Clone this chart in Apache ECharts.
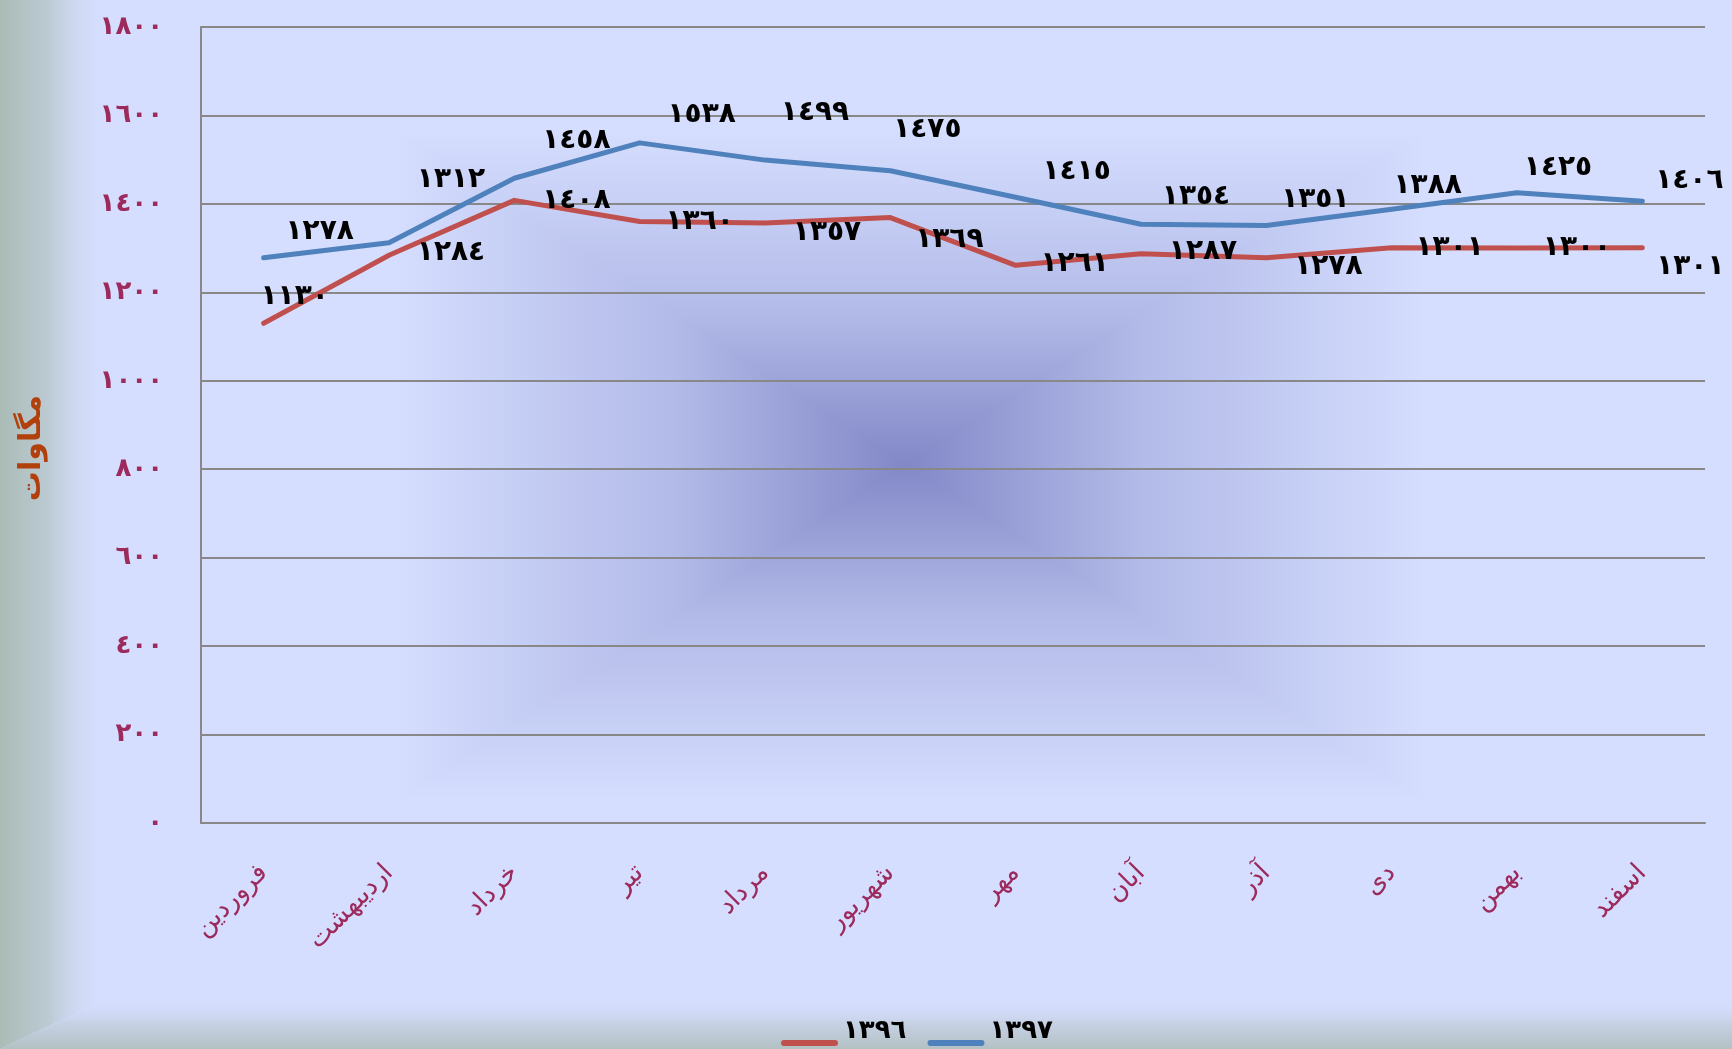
<!DOCTYPE html>
<html>
<head>
<meta charset="utf-8">
<script src="https://cdn.jsdelivr.net/npm/echarts@6/dist/echarts.min.js"></script>
<style>
html,body{margin:0;padding:0;background:#d5defe;}
#chart{width:1732px;height:1049px;}
</style>
</head>
<body>
<div id="chart"></div>
<script>
// ---- data ----
const months = ['فروردین','اردیبهشت','خرداد','تیر','مرداد','شهریور','مهر','آبان','آذر','دی','بهمن','اسفند'];
const seriesNames = ['1396','1397'];
const values1396 = [1130,1284,1408,1360,1357,1369,1261,1287,1278,1301,1300,1301];
const values1397 = [1278,1312,1458,1538,1499,1475,1415,1354,1351,1388,1425,1406];
const yTicks = {min:0, max:1800, interval:200};
const yTitle = 'مگاوات';

// ---- label placement (style) ----
const redDx = [31,62,62,60,62,59,59,62,62,58,60,48];
const redDy = [-27,-2,0,0,10,22,-2,-2,9,0,0,19];
const blueDx = [56,62,62,62,50,37,61,55,49,36,41,47];
const blueDy = [-26,-63,-38,-28,-47,-41,-26,-28,-26,-23,-25,-21];

const AR = '٠١٢٣٤٥٦٧٨٩';
function toAr(n){ return String(n).replace(/\d/g, d => AR[+d]); }
const FONT = '"DejaVu Sans", sans-serif';

function items(vals, dx, dy){
  return vals.map((v,i)=>({value:v, label:{offset:[dx[i], dy[i]]}}));
}

// background path gradient (rectangular) pieces, opaque so that seams vanish
const L=395, R=1425, T=132, B=800, CX=906, CY=464;
const edgeC = '#d5defe';
const midC = '#b2bae8';
const ctrC = '#8288c7';
function lg(x1,y1,x2,y2,rev){
  const stops = rev
    ? [{offset:0,color:ctrC},{offset:0.45,color:midC},{offset:1,color:edgeC}]
    : [{offset:0,color:edgeC},{offset:0.55,color:midC},{offset:1,color:ctrC}];
  return new echarts.graphic.LinearGradient(x1,y1,x2,y2,stops);
}
function tri(points, g){
  return {type:'polygon', z:-15, silent:true, shape:{points:points}, style:{fill:g, stroke:g, lineWidth:1}};
}
const legendIcon = 'path://M0,0L57,0L57,0.01L0,0.01Z M3,24 L54,24 A3,3 0 0 1 54,30 L3,30 A3,3 0 0 1 3,24 Z';

const chart = echarts.init(document.getElementById('chart'));
chart.setOption({
  backgroundColor:'#d5defe',
  animation:false,
  graphic:[
    {type:'polygon', z:-20, silent:true, shape:{points:[[0,0],[108,0],[108,998],[0,1049]]},
      style:{fill:new echarts.graphic.LinearGradient(0,0,1,0,[{offset:0,color:'#abbbb5'},{offset:0.45,color:'#bccad3'},{offset:1,color:'rgba(213,222,254,0)'}])}},
    {type:'polygon', z:-20, silent:true, shape:{points:[[0,1049],[108,998],[1732,998],[1732,1049]]},
      style:{fill:new echarts.graphic.LinearGradient(0,0,0,1,[{offset:0,color:'rgba(213,222,254,0)'},{offset:0.5,color:'#c6d1e4'},{offset:1,color:'#b3c1c4'}])}},
    tri([[L,T],[R,T],[CX,CY]], lg(0,0,0,1,false)),
    tri([[L,B],[R,B],[CX,CY]], lg(0,0,0,1,true)),
    tri([[L,T],[L,B],[CX,CY]], lg(0,0,1,0,false)),
    tri([[R,T],[R,B],[CX,CY]], lg(0,0,1,0,true)),
    {type:'text', x:32, y:448, rotation:Math.PI/2, silent:true,
      style:{text:yTitle, fill:'#b2400c', font:'bold 30px "DejaVu Sans", sans-serif', textAlign:'center', textVerticalAlign:'middle'}}
  ],
  grid:{left:201, right:27, top:27, bottom:226, containLabel:false},
  legend:{
    left:776, top:1011, itemWidth:57, itemHeight:30, itemGap:21,
    data:seriesNames.map(n=>({name:toAr(n), icon:legendIcon})),
    textStyle:{fontFamily:FONT, fontSize:26, fontWeight:'bold', color:'#000'}
  },
  xAxis:{
    type:'category', data:months, boundaryGap:true,
    axisLine:{lineStyle:{color:'#888', width:2}},
    axisTick:{show:false},
    axisLabel:{rotate:45, margin:46, fontFamily:FONT, fontSize:26, color:'#9c2a5c', interval:0},
    splitLine:{show:false}
  },
  yAxis:{
    type:'value', min:yTicks.min, max:yTicks.max, interval:yTicks.interval,
    axisLine:{show:true, lineStyle:{color:'#888', width:2}},
    axisTick:{show:false},
    axisLabel:{margin:38, fontFamily:FONT, fontSize:26, fontWeight:'bold', color:'#9c2a5c', formatter:v=>toAr(v)},
    splitLine:{lineStyle:{color:'#888', width:2}}
  },
  series:[
    {name:toAr(seriesNames[0]), type:'line', data:items(values1396, redDx, redDy),
      symbol:'circle', symbolSize:2, showSymbol:true,
      lineStyle:{color:'#c0504d', width:5, cap:'round', join:'round'},
      itemStyle:{color:'#c0504d'},
      label:{show:true, position:'inside', color:'#000', fontFamily:FONT, fontSize:28, fontWeight:'bold', textBorderWidth:0, formatter:p=>toAr(p.value)}},
    {name:toAr(seriesNames[1]), type:'line', data:items(values1397, blueDx, blueDy),
      symbol:'circle', symbolSize:2, showSymbol:true,
      lineStyle:{color:'#4f81bd', width:5, cap:'round', join:'round'},
      itemStyle:{color:'#4f81bd'},
      label:{show:true, position:'inside', color:'#000', fontFamily:FONT, fontSize:28, fontWeight:'bold', textBorderWidth:0, formatter:p=>toAr(p.value)}}
  ]
});
</script>
</body>
</html>
